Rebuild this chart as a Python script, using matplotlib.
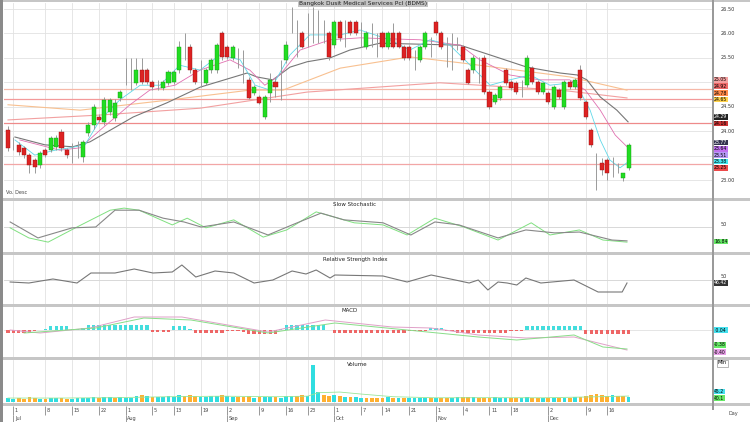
import matplotlib
matplotlib.use("Agg")
import matplotlib.pyplot as plt
from matplotlib.patches import Rectangle
from matplotlib.transforms import blended_transform_factory as blend

# ---------------------------------------------------------------- data
title = "Bangkok Dusit Medical Services Pcl (BDMS)"

opens = [24.02, 23.75, 23.72, 23.66, 23.51, 23.41, 23.31, 23.61, 23.61, 23.68,
         23.98, 23.61, 23.60, 23.65, 23.47, 23.96, 24.13, 24.29, 24.19, 24.39,
         24.27, 24.68, 25.00, 25.00, 24.99, 25.25, 25.25, 25.01, 24.95, 24.88,
         24.99, 25.01, 25.25, 25.60, 25.72, 25.25, 25.10, 24.99, 25.25, 25.25,
         26.01, 25.72, 25.50, 25.55, 25.40, 25.05, 24.78, 24.70, 24.29, 24.78,
         25.01, 25.10, 25.46, 26.10, 25.80, 26.01, 25.90, 26.00, 26.00, 25.95,
         26.01, 25.76, 26.23, 26.05, 26.23, 26.23, 26.10, 25.72, 26.00, 25.80,
         26.01, 25.72, 26.01, 26.01, 25.72, 25.72, 25.50, 25.46, 25.72, 25.85,
         26.23, 26.01, 25.60, 25.60, 25.80, 25.72, 25.25, 25.25, 25.30, 25.50,
         24.80, 24.60, 24.68, 25.25, 25.01, 24.99, 24.90, 24.94, 25.29, 25.01,
         24.80, 24.78, 24.49, 24.84, 24.49, 25.01, 24.90, 25.25, 24.60, 24.02,
         23.50, 23.35, 23.41, 23.25, 23.20, 23.04, 23.25]
highs = [24.10, 23.88, 23.78, 23.70, 23.55, 23.45, 23.60, 23.66, 23.90, 23.92,
         24.04, 23.65, 23.76, 23.80, 23.82, 24.18, 24.55, 24.35, 24.70, 24.68,
         24.66, 24.85, 25.50, 25.50, 25.50, 25.50, 25.30, 25.05, 25.05, 25.05,
         25.25, 25.25, 25.85, 26.01, 25.78, 25.30, 25.46, 25.30, 25.50, 25.80,
         26.05, 25.76, 25.76, 25.70, 25.66, 25.10, 24.95, 24.75, 24.75, 25.20,
         25.10, 25.46, 25.85, 26.55, 26.27, 26.05, 26.42, 26.55, 26.48, 26.27,
         26.05, 26.27, 26.27, 26.27, 26.27, 26.27, 26.23, 26.05, 26.21, 26.01,
         26.05, 26.05, 26.21, 26.05, 25.76, 25.76, 25.66, 25.76, 26.05, 25.93,
         26.27, 26.05, 25.93, 26.01, 25.93, 25.76, 25.30, 25.55, 25.52, 25.55,
         24.85, 24.78, 24.94, 25.30, 25.05, 25.03, 25.05, 25.55, 25.33, 25.05,
         25.01, 24.82, 24.94, 24.88, 25.05, 25.05, 25.08, 25.35, 24.64, 24.06,
         23.55, 23.45, 23.45, 23.47, 23.35, 23.10, 23.76]
lows = [23.60, 23.62, 23.52, 23.45, 23.14, 23.14, 23.25, 23.47, 23.57, 23.62,
        23.60, 23.45, 23.35, 23.45, 23.37, 23.90, 24.05, 24.18, 24.12, 24.33,
        24.20, 24.62, 24.95, 24.85, 24.95, 24.96, 24.96, 24.85, 24.85, 24.84,
        24.95, 24.96, 25.20, 25.45, 25.20, 24.96, 24.90, 24.95, 25.20, 25.20,
        25.45, 25.48, 25.45, 25.30, 24.99, 24.65, 24.74, 24.55, 24.25, 24.60,
        24.70, 24.64, 25.40, 26.00, 25.52, 25.70, 25.72, 25.80, 25.80, 25.80,
        25.45, 25.70, 25.85, 25.72, 25.97, 25.97, 25.72, 25.68, 25.72, 25.52,
        25.70, 25.68, 25.70, 25.70, 25.46, 25.46, 25.25, 25.42, 25.68, 25.52,
        25.97, 25.68, 25.31, 25.25, 25.66, 25.42, 24.96, 25.20, 24.99, 24.76,
        24.45, 24.55, 24.64, 24.95, 24.84, 24.76, 24.70, 24.90, 24.97, 24.76,
        24.76, 24.56, 24.45, 24.66, 24.45, 24.86, 24.86, 24.64, 24.25, 23.68,
        22.80, 23.10, 23.00, 23.06, 23.14, 22.98, 23.20]
closes = [23.66, 23.75, 23.58, 23.51, 23.31, 23.27, 23.55, 23.51, 23.86, 23.86,
          23.66, 23.51, 23.60, 23.65, 23.78, 24.13, 24.49, 24.23, 24.64, 24.64,
          24.58, 24.80, 25.00, 25.00, 25.25, 25.01, 25.01, 24.90, 24.95, 25.01,
          25.21, 25.21, 25.72, 25.60, 25.25, 25.01, 25.10, 25.25, 25.46, 25.76,
          25.52, 25.52, 25.72, 25.55, 25.40, 24.68, 24.90, 24.58, 24.70, 25.05,
          24.90, 25.10, 25.76, 26.10, 25.80, 25.72, 25.90, 26.00, 26.00, 25.95,
          25.52, 26.23, 25.90, 26.05, 26.01, 26.01, 26.10, 26.01, 26.00, 25.80,
          25.72, 26.01, 25.72, 25.72, 25.50, 25.50, 25.50, 25.72, 26.01, 25.85,
          26.01, 25.72, 25.60, 25.60, 25.80, 25.46, 24.99, 25.50, 25.30, 24.80,
          24.49, 24.74, 24.90, 24.99, 24.88, 24.80, 24.90, 25.50, 25.01, 24.80,
          24.99, 24.60, 24.90, 24.70, 25.01, 24.90, 25.05, 24.68, 24.29, 23.72,
          23.50, 23.20, 23.14, 23.25, 23.20, 23.14, 23.72]

volume = [30, 25, 28, 22, 35, 30, 26, 24, 28, 30, 32,
          25, 22, 27, 30, 34, 40, 30, 36, 38, 33, 35,
          32, 28, 45, 50, 42, 38, 35, 40, 42, 38, 52,
          48, 50, 45, 40, 38, 44, 42, 50, 46, 40, 36,
          38, 45, 32, 35, 40, 38, 36, 30, 42, 48, 44, 50, 46,
          280,
          75, 55, 48, 52, 45, 40, 38,
          35, 30, 32, 28, 30, 33, 35, 30, 28, 32, 30, 34, 30, 28, 33, 30,
          32, 30, 28, 35, 38, 40, 36, 32, 30, 34, 36, 32, 30, 28, 30, 32,
          35, 33, 30, 28, 32, 30, 34, 30, 33, 35, 38, 45, 55, 60, 52, 48,
          50, 45, 42, 40]

macd_hist = [-0.05, -0.05, -0.05, -0.05, -0.05, -0.02, 0.01, 0.03,
             0.08, 0.08, 0.08, 0.08, 0.03, 0.02, 0.04,
             0.10, 0.10, 0.10, 0.10, 0.10, 0.10, 0.10, 0.10, 0.10, 0.10, 0.10, 0.10,
             -0.04, -0.04, -0.04, -0.04, 0.08, 0.08, 0.08, 0.02,
             -0.05, -0.05, -0.05, -0.05, -0.05, -0.05, -0.02, -0.01, -0.02, -0.03,
             -0.07, -0.07, -0.07, -0.07, -0.07, -0.07, 0.02,
             0.10, 0.10, 0.10, 0.10, 0.10, 0.10, 0.10, 0.10, 0.01,
             -0.05, -0.05, -0.05, -0.05, -0.05, -0.05, -0.05, -0.05, -0.05, -0.05,
             -0.05, -0.05, -0.05, -0.05, -0.02, -0.02, -0.02, -0.02,
             0.05, 0.05, 0.05, -0.02, -0.02,
             -0.06, -0.06, -0.06, -0.06, -0.06, -0.06, -0.06, -0.06, -0.06, -0.06,
             -0.02, -0.02, -0.02,
             0.08, 0.08, 0.08, 0.08, 0.08, 0.08, 0.08, 0.08, 0.08, 0.08, 0.08,
             -0.07, -0.07, -0.07, -0.07, -0.07, -0.07, -0.07, -0.07, -0.07]

# moving averages (day index, price)
ma5_x = [1.3, 5.0, 8.8, 11.6, 14.4, 17.2, 20.9, 24.7, 28.4, 32.1, 35.9, 39.6, 43.4,
         46.2, 49.0, 52.7, 56.4, 62.1, 65.8, 71.4, 75.1, 78.9, 82.6, 86.4, 90.1,
         93.8, 97.6, 101.3, 106.0, 108.8, 110.7, 112.5, 114.4, 115.9]
ma5_y = [23.82, 23.51, 23.61, 23.66, 23.72, 24.23, 24.64, 24.94, 24.94, 25.35, 25.25,
         25.56, 25.46, 24.94, 24.84, 25.56, 25.97, 25.97, 26.07, 25.87, 25.66, 25.87,
         25.76, 25.35, 24.94, 25.05, 25.15, 24.94, 25.00, 24.43, 23.82, 23.41, 23.25,
         23.37]
ma10_x = [2.2, 9.7, 13.5, 17.2, 22.8, 26.5, 31.2, 35.9, 41.5, 45.2, 48.0, 50.8, 54.6,
          60.2, 65.8, 77.0, 84.5, 88.2, 93.8, 99.4, 105.0, 107.9, 110.7, 113.5, 115.9]
ma10_y = [23.82, 23.61, 23.66, 24.02, 24.54, 24.84, 24.94, 25.25, 25.46, 25.25, 24.94,
          25.15, 25.66, 25.87, 25.91, 25.87, 25.76, 25.46, 25.15, 25.05, 25.05, 24.84,
          24.43, 23.92, 23.66]
ma25_x = [1.3, 6.9, 12.1, 15.3, 23.4, 29.7, 35.9, 44.7, 46.5, 49.5, 52.7, 55.9, 60.2,
          63.9, 69.5, 84.5, 90.1, 97.0, 103.2, 106.4, 108.2, 110.7, 113.8, 115.9]
ma25_y = [23.88, 23.72, 23.68, 23.78, 24.29, 24.58, 24.90, 25.19, 25.11, 25.05, 25.31,
          25.42, 25.50, 25.66, 25.80, 25.76, 25.56, 25.31, 25.19, 25.15, 25.05, 24.70,
          24.43, 24.19]
ma50_x = [0, 13.5, 30.3, 45.2, 51.4, 62.1, 75.1, 84.5, 105.0, 115.7]
ma50_y = [24.54, 24.43, 24.64, 24.84, 24.84, 25.29, 25.52, 25.40, 25.11, 24.84]
ma100_x = [0, 17.2, 35.9, 55.9, 80.7, 103.2, 115.7]
ma100_y = [24.23, 24.33, 24.47, 24.80, 24.99, 24.84, 24.68]

levels = [24.86, 24.66, 24.17, 23.33]
level_colors = ["#f6b8a8", "#f39a9a", "#ee8a8a", "#f2a6a6"]

price_ticks = [23.0, 23.5, 24.0, 24.5, 25.0, 25.5, 26.0, 26.5]
tag_prices = [25.05, 24.92, 24.78, 24.65, 24.29, 24.16, 23.77, 23.64, 23.51, 23.38, 23.25]
tag_colors = ["#f4a0a0", "#f06a6a", "#ff8a4a", "#ffd24a", "#222222", "#cc3333",
              "#33334f", "#c070f0", "#b89af8", "#44e6ee", "#ee4a4a"]

stoch_k_x = [0.4, 5.6, 12, 16.4, 20, 24.5, 29, 32.9, 36.1, 42.2, 48.6, 53.1, 58.5,
             62.8, 70.1, 75.3, 79.8, 84.3, 91.6, 96.8, 102.2, 106.8, 112.9, 115.7]
stoch_k = [62, 24, 48, 50, 90, 90, 71, 62, 50, 62, 31, 55, 83, 67, 60, 31, 62, 55,
           24, 43, 36, 38, 19, 17]
stoch_d_x = [0.4, 3.9, 7.5, 12.9, 19.1, 21.7, 24.5, 30.7, 33.5, 37.0, 42.2, 47.7,
             52.1, 57.6, 64.7, 70.1, 74.6, 79.8, 85.2, 91.6, 97.8, 101.3, 106.8,
             111.2, 115.7]
stoch_d = [48, 24, 14, 50, 90, 95, 90, 55, 71, 48, 67, 26, 43, 86, 60, 55, 31, 71,
           50, 19, 60, 31, 43, 19, 14]

rsi_x = [0.4, 3.9, 8.4, 12.9, 15.5, 20, 23.6, 27.1, 30.7, 32.5, 35.1, 38.7, 42.2, 46,
         49.5, 53.1, 55.7, 57.6, 60.2, 61.1, 70.1, 74.6, 79.1, 83.6, 86.2, 87.9,
         89.7, 91.6, 93.3, 95.1, 96.8, 99.6, 105.8, 110.3, 114.8, 115.7]
rsi = [47.6, 46.4, 51.2, 46.4, 58.4, 58.4, 63.2, 58.4, 59.6, 68, 53.6, 60.8, 58.4,
       46.4, 50, 60.8, 57.2, 62, 52.4, 56, 54.8, 47.6, 56, 50, 46.4, 50, 38, 47.6,
       46.4, 44, 52.4, 46.4, 50, 35.6, 35.6, 46.4]

macd_x = [0.4, 6, 15.3, 23.6, 32.5, 43.2, 48.6, 59.3, 71.8, 79.1, 87.9, 96.8, 105.8,
          110.3, 115.7]
macd = [0, -0.06, 0.04, 0.26, 0.26, 0.06, -0.04, 0.2, 0.06, 0.04, -0.1, -0.16,
        -0.14, -0.26, -0.4]
signal_x = [3, 16.4, 25.4, 34.2, 48.6, 61.1, 74.6, 87.9, 95.1, 105.8, 111.2, 115.7]
signal = [-0.06, 0.04, 0.24, 0.2, -0.06, 0.14, 0, -0.14, -0.2, -0.1, -0.34, -0.38]

vol_ma_x = [0, 10, 20, 30, 40, 50, 56, 58, 62, 66, 72, 80, 90, 100, 108, 116]
vol_ma = [30, 30, 33, 40, 44, 40, 44, 70, 75, 60, 40, 32, 33, 32, 38, 45]

week_ticks = [1, 7, 12, 17, 22, 27, 31, 36, 41, 47, 52, 56, 61, 66, 70, 75, 80, 85,
              90, 94, 101, 108, 112]
day_labels = ["1", "8", "15", "22", "1", "5", "13", "19", "2", "9", "16", "23",
              "1", "7", "14", "21", "1", "4", "11", "18", "2", "9", "16"]
month_ticks = [1, 22, 41, 61, 80, 101]
month_labels = ["Jul", "Aug", "Sep", "Oct", "Nov", "Dec"]

# ---------------------------------------------------------------- layout
W, H = 750, 422
fig = plt.figure(figsize=(7.5, 4.22), dpi=100)
fig.patch.set_facecolor("white")

STEP = 5.35      # pixels per day
X0, X1 = 4, 712  # plot area in pixels


def px_axes(y0, y1):
    ax = fig.add_axes([X0 / W, 1 - y1 / H, (X1 - X0) / W, (y1 - y0) / H])
    ax.set_xlim((X0 - 8) / STEP, (X1 - 8) / STEP)
    for s in ax.spines.values():
        s.set_visible(False)
    ax.set_xticks(week_ticks)
    ax.tick_params(length=0, labelbottom=False, labelleft=False)
    ax.grid(True, axis="x", color="#e2e2e2", lw=0.6)
    ax.set_axisbelow(True)
    return ax


def ftext(x, y, s, **kw):
    fig.text(x / W, 1 - y / H, s, **kw)


def tag(ax, y, s, fc, tc="black"):
    ax.text(1.003, y, s, transform=blend(ax.transAxes, ax.transData),
            fontsize=3.3, va="center", ha="left", color=tc, clip_on=False,
            zorder=5, bbox=dict(boxstyle="square,pad=0.06", fc=fc, ec="none"))


def rlabel(ax, y, s):
    ax.text(1.012, y, s, transform=blend(ax.transAxes, ax.transData),
            fontsize=3.6, va="center", ha="left", color="#333333", clip_on=False)


# main price panel
ax = px_axes(3, 198)
ax.set_ylim(22.632, 26.623)
ax.set_yticks(price_ticks)
ax.grid(True, axis="y", color="#e2e2e2", lw=0.6)
for lv, c in zip(levels, level_colors):
    ax.axhline(lv, color=c, lw=0.9, zorder=1)
days = range(len(closes))
ax.plot(ma100_x, ma100_y, color="#f2a0a0", lw=0.8, zorder=2)
ax.plot(ma50_x, ma50_y, color="#f8c090", lw=0.8, zorder=2)
ax.plot(ma25_x, ma25_y, color="#777777", lw=0.8, zorder=2)
ax.plot(ma10_x, ma10_y, color="#e070b0", lw=0.6, zorder=2)
ax.plot(ma5_x, ma5_y, color="#60d8e8", lw=0.6, zorder=2)
ax.vlines(days, lows, highs, color="#9a9a9a", lw=0.7, zorder=3)
for i in days:
    o, c = opens[i], closes[i]
    if c == o:
        continue
    col = "#22dd22" if c > o else "#dd2222"
    edge = "#119911" if c > o else "#991111"
    ax.bar(i, abs(c - o), bottom=min(o, c), width=0.75, color=col,
           edgecolor=edge, lw=0.3, zorder=4)
# tick labels hidden behind a price tag are left out, as on the original
for p in price_ticks:
    if all(abs(p - t) > 0.09 for t in tag_prices):
        rlabel(ax, p, f"{p:.2f}")
for p, c in zip(tag_prices, tag_colors):
    tag(ax, p, f"{p:.2f}", c, "white" if c in ("#222222", "#33334f") else "black")
ftext(6, 192, "Vo. Desc", fontsize=3.6, color="#444444", va="center")

# slow stochastic
ax2 = px_axes(201, 252)
ax2.set_ylim(-9.5, 111.9)
ax2.axhline(50, color="#d8d8d8", lw=0.7)
ax2.plot(stoch_d_x, stoch_d, color="#80e080", lw=0.7)
ax2.plot(stoch_k_x, stoch_k, color="#888888", lw=0.8)
rlabel(ax2, 55, "50")
tag(ax2, 16, "16.84", "#66e866")

# RSI
ax3 = px_axes(255, 304)
ax3.set_ylim(21.2, 80)
ax3.axhline(50, color="#d8d8d8", lw=0.7)
ax3.plot(rsi_x, rsi, color="#777777", lw=0.8)
rlabel(ax3, 54, "50")
tag(ax3, 46.4, "46.42", "#333333", "white")

# MACD
ax4 = px_axes(307, 357)
ax4.set_ylim(-0.54, 0.46)
ax4.axhline(0, color="#e0e0e0", lw=0.6)
hcol = ["#44dddd" if v > 0 else "#ee6666" for v in macd_hist]
ax4.bar(days, macd_hist, width=0.6, color=hcol, zorder=2)
ax4.plot(macd_x, macd, color="#e0a0c8", lw=0.7, zorder=3)
ax4.plot(signal_x, signal, color="#88dd88", lw=0.7, zorder=3)
tag(ax4, 0.0, " 0.04 ", "#44e0ee")
tag(ax4, -0.30, "-0.38", "#66e866")
tag(ax4, -0.44, "-0.40", "#e8a0e8")

# volume
ax5 = px_axes(360, 403)
ax5.set_ylim(-7, 315)
vcol = ["#ffb030" if i > 0 and closes[i] < closes[i - 1] else "#30dde0" for i in days]
ax5.bar(days, volume, width=0.7, color=vcol, zorder=2)
ax5.plot(vol_ma_x, vol_ma, color="#99e699", lw=0.6, zorder=3)
tag(ax5, 80, "45.2", "#44e0ee")
tag(ax5, 30, "40.1", "#66e866")
ftext(718, 363, "Mln", fontsize=3.6, va="center",
      bbox=dict(boxstyle="square,pad=0.2", fc="white", ec="#999999", lw=0.5))

# panel titles
ftext(363, 4, title, fontsize=4.2, ha="center", va="center", color="#222222",
      bbox=dict(boxstyle="square,pad=0.15", fc="#c4c4c4", ec="none"))
ftext(355, 205, "Slow Stochastic", fontsize=4, ha="center", va="center", color="#222222")
ftext(355, 259, "Relative Strength Index", fontsize=4, ha="center", va="center", color="#222222")
ftext(350, 311, "MACD", fontsize=4, ha="center", va="center", color="#222222")
ftext(357, 365, "Volume", fontsize=4, ha="center", va="center", color="#222222")

# date strip
ax6 = fig.add_axes([X0 / W, 0, (X1 - X0) / W, 16 / H])
ax6.set_xlim((X0 - 8) / STEP, (X1 - 8) / STEP)
ax6.set_ylim(0, 1)
ax6.axis("off")
ax6.vlines(week_ticks, 0.45, 1, color="#888888", lw=0.6)
for t, s in zip(week_ticks, day_labels):
    ax6.text(t + 0.3, 0.72, s, fontsize=3.6, va="center", ha="left", color="#444444")
for t, s in zip(month_ticks, month_labels):
    ax6.vlines(t, 0.0, 0.45, color="#888888", lw=0.6)
    ax6.text(t + 0.3, 0.22, s, fontsize=3.6, va="center", ha="left", color="#444444")
ftext(733, 414, "Day", fontsize=3.6, ha="center", va="center", color="#444444")


# frame pieces
def band(x0, y0, x1, y1, c):
    fig.add_artist(Rectangle((x0 / W, 1 - y1 / H), (x1 - x0) / W, (y1 - y0) / H,
                             transform=fig.transFigure, color=c, lw=0, zorder=0.5))


for y0, y1 in [(0, 2), (198, 201), (252, 255), (304, 307), (357, 360), (403, 406)]:
    band(0, y0, 750, y1, "#c6c6c6")
band(0, 0, 3, 422, "#8a8a8a")
band(712, 0, 714, 410, "#9a9a9a")

fig.savefig("out.png", dpi=100)
